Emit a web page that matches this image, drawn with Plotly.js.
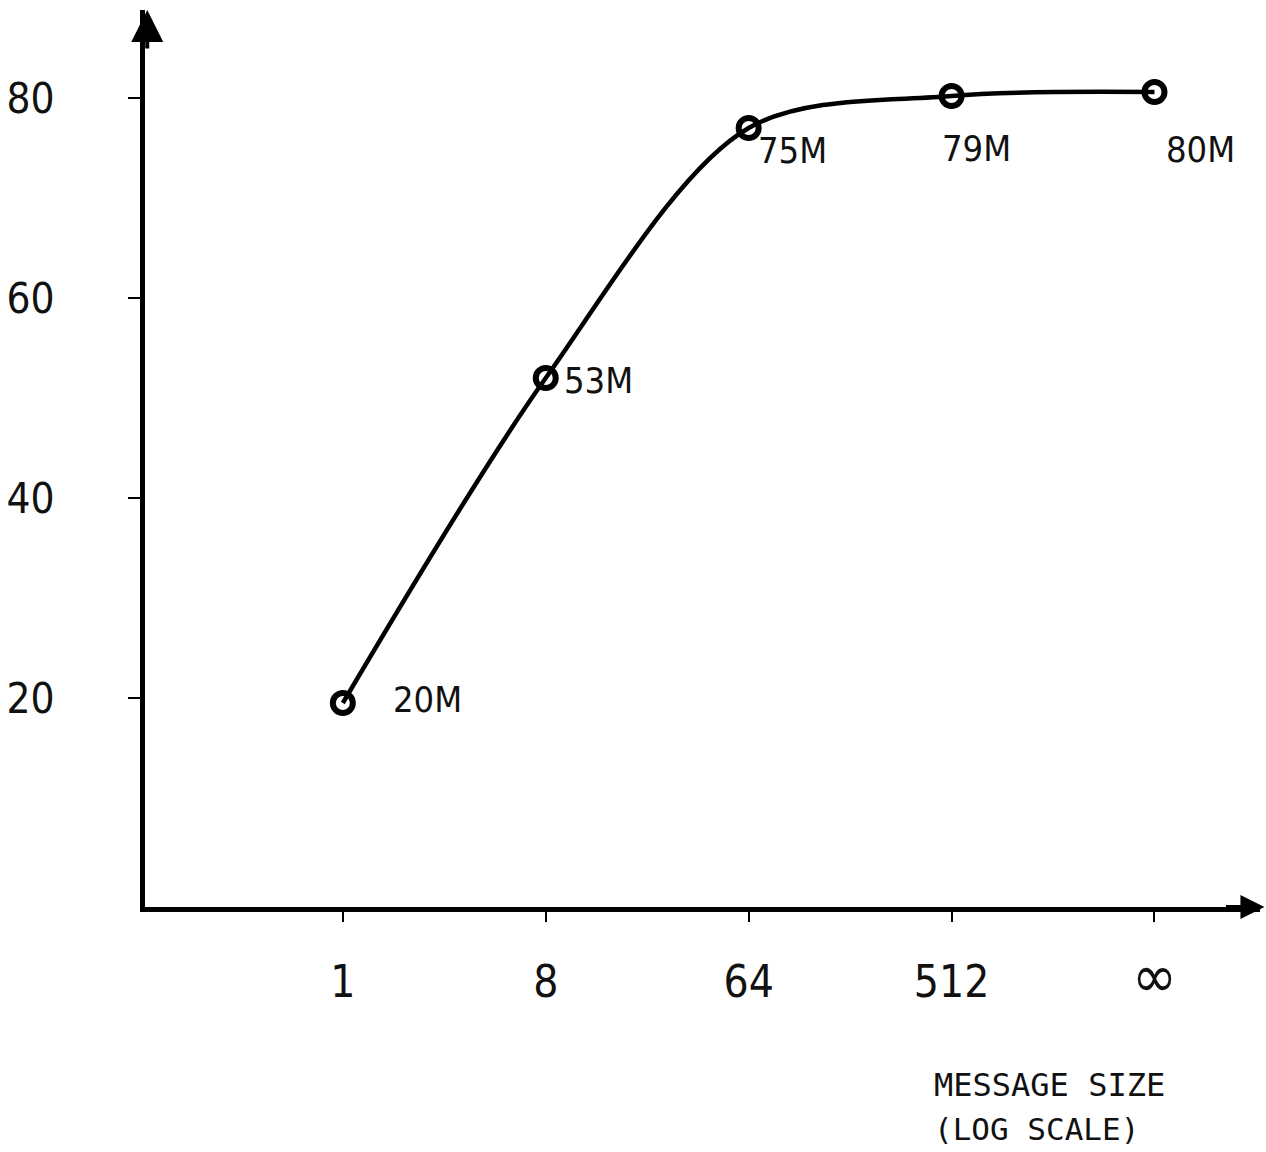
<!DOCTYPE html>
<html>
<head>
<meta charset="utf-8">
<script src="https://cdn.plot.ly/plotly-3.0.1.min.js"></script>
<style>html,body{margin:0;padding:0;background:#fff}#chart{width:1266px;height:1152px}</style>
</head>
<body>
<div id="chart"></div>
<script>
// ---- data ----
const categories = ["1", "8", "64", "512", "\u221e"];
const categoryIndex = [0, 1, 2, 3, 4];
const throughput = [19.5, 52, 77, 80.2, 80.6];
const pointLabels = ["20M", "53M", "75M", "79M", "80M"];
const yTicks = [20, 40, 60, 80];
const xTitleLines = ["MESSAGE SIZE", "(LOG SCALE)"];

// ---- label offsets (px) ----
const labelShift = [[48, 4], [16, -2], [7, -22], [-12, -52], [10, -57]];

const numFont = "'DejaVu Sans Condensed', 'Liberation Sans Narrow', sans-serif";
const monoFont = "'DejaVu Sans Mono', monospace";

const trace = {
  x: categoryIndex,
  y: throughput,
  type: "scatter",
  mode: "lines+markers",
  line: {color: "#000", width: 4.5, shape: "spline", smoothing: 0.9},
  marker: {symbol: "circle-open", size: 20, color: "#000", line: {color: "#000", width: 6}},
  hoverinfo: "skip"
};

const annotations = pointLabels.map((t, i) => ({
  x: categoryIndex[i], y: throughput[i], xref: "x", yref: "y",
  text: t, showarrow: false, xanchor: "left", yanchor: "middle",
  xshift: labelShift[i][0], yshift: labelShift[i][1],
  font: {family: numFont, size: 36, color: "#111"}
}));

// axis title lines
annotations.push({
  xref: "paper", yref: "paper", x: 0.7065, y: -0.176, xanchor: "left", yanchor: "top",
  text: xTitleLines[0], showarrow: false, borderpad: 0, font: {family: monoFont, size: 32, color: "#111"}
});
annotations.push({
  xref: "paper", yref: "paper", x: 0.7065, y: -0.226, xanchor: "left", yanchor: "top",
  text: xTitleLines[1], showarrow: false, borderpad: 0, font: {family: monoFont, size: 31, color: "#111"}
});

// arrowheads on axes
annotations.push({
  xref: "paper", yref: "paper", x: 0.002, y: 1.0, ax: 0, ay: 40,
  text: "", showarrow: true, arrowhead: 2, arrowsize: 1.6, arrowwidth: 4, arrowcolor: "#000"
});
annotations.push({
  xref: "paper", yref: "paper", x: 1.004, y: 0, ax: -40, ay: 0,
  text: "", showarrow: true, arrowhead: 2, arrowsize: 1.2, arrowwidth: 4, arrowcolor: "#000"
});

const tickText = categories.map(c => c === "\u221e" ? "<span style='font-size:60px'>" + c + "</span>" : c);

const layout = {
  width: 1266, height: 1152,
  margin: {l: 145, r: 6, t: 10, b: 245, pad: 0},
  paper_bgcolor: "#fff", plot_bgcolor: "#fff",
  showlegend: false,
  xaxis: {
    range: [-0.975, 4.52], showgrid: false, zeroline: false,
    showline: true, linecolor: "#000", linewidth: 5,
    tickmode: "array", tickvals: categoryIndex, ticktext: tickText,
    ticks: "outside", ticklen: 10, tickwidth: 2, tickcolor: "#000",
    ticklabelstandoff: 22,
    tickfont: {family: numFont, size: 44, color: "#111"}
  },
  yaxis: {
    range: [-0.9, 88.8], showgrid: false, zeroline: false,
    showline: true, linecolor: "#000", linewidth: 5,
    tickmode: "array", tickvals: yTicks, ticktext: yTicks.map(String),
    ticks: "outside", ticklen: 12, tickwidth: 2, tickcolor: "#000",
    ticklabelstandoff: 65,
    tickfont: {family: numFont, size: 42, color: "#111"}
  },
  annotations: annotations
};

Plotly.newPlot("chart", [trace], layout, {displayModeBar: false, staticPlot: true});
</script>
</body>
</html>
